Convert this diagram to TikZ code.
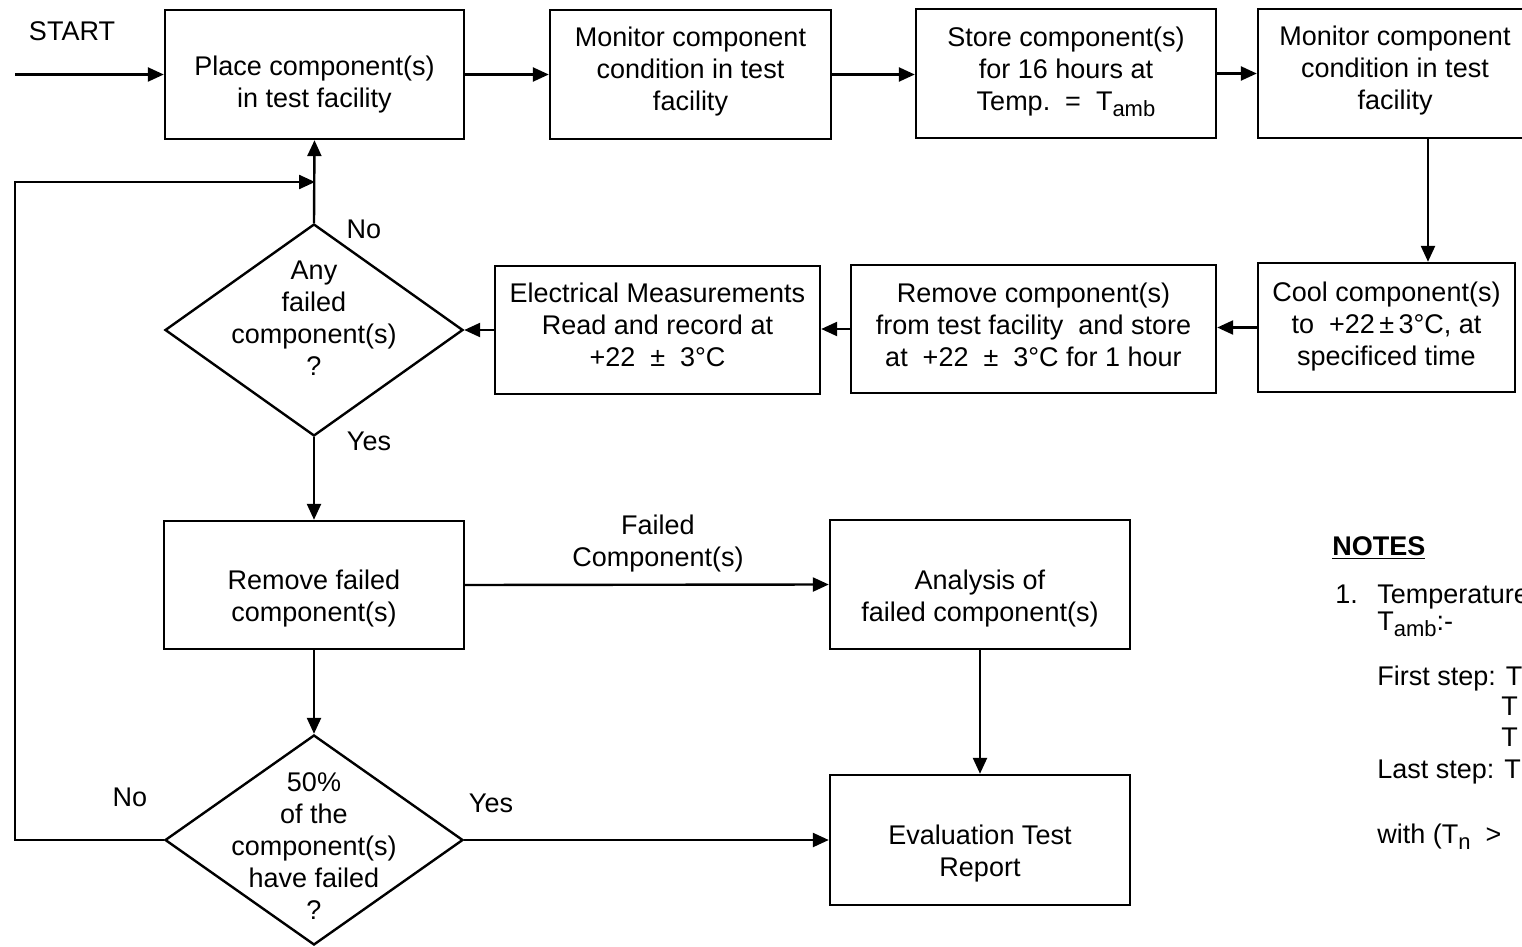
\documentclass[tikz,border=0pt]{standalone}
\usepackage{fontspec}
\setmainfont{Liberation Sans}
\usetikzlibrary{arrows.meta,shapes.geometric}
\newcommand{\subamb}{\raisebox{-0.45ex}{\fontsize{11}{11}\selectfont amb}}
\begin{document}
\begin{tikzpicture}[x=0.5pt,y=-0.5pt,
  box/.style={draw,line width=1.2pt,inner sep=0pt,minimum height=64.5pt},
  dia/.style={draw,shape=diamond,line width=1.2pt,inner sep=0pt},
  txt/.style={align=center,font=\fontsize{13.5}{16}\selectfont,inner sep=0pt},
  lbl/.style={font=\fontsize{13.5}{16}\selectfont,inner sep=0pt},
  arr/.style={line width=1.2pt,-{Triangle[length=8pt,width=7pt]}},
  ln/.style={line width=1.2pt}]
\useasboundingbox (0,0) rectangle (1522,947);
\clip (0,0) rectangle (1522,947);
\fill[white] (0,0) rectangle (1522,947);

% boxes
\node[box,minimum width=149.5pt] (A) at (314.5,74.5) {};
\node[box,minimum width=140.5pt] (B) at (690.5,74.5) {};
\node[box,minimum width=150pt] (C) at (1066,73.5) {};
\node[box,minimum width=137pt] (D) at (1395,73.5) {};
\node[box,minimum width=128.5pt] (Cool) at (1386.5,327.5) {};
\node[box,minimum width=182.5pt,minimum height=64pt] (Rem) at (1033.5,329) {};
\node[box,minimum width=162.5pt,minimum height=64pt] (Elec) at (657.5,330) {};
\node[box,minimum width=150pt,minimum height=64pt] (RF) at (314,585) {};
\node[box,minimum width=150pt] (AN) at (980,584.5) {};
\node[box,minimum width=150pt,minimum height=65pt] (EV) at (980,840) {};
\node[dia,minimum width=149pt,minimum height=106pt] (D1) at (314,330) {};
\node[dia,minimum width=149pt,minimum height=105pt] (D2) at (314,840) {};

% box texts
\node[txt,yshift=-5pt] (At) at (A) {Place component(s)\\in test facility};
\node[txt,yshift=1.25pt] (Bt) at (B) {Monitor component\\condition in test\\facility};
\node[txt,yshift=0.75pt] (Ct) at (C) {Store component(s)\\for 16 hours at\\Temp.~~=~~T\subamb};
\node[txt,yshift=1.25pt] (Dt) at (D) {Monitor component\\condition in test\\facility};
\node[txt,yshift=0.5pt] (Coolt) at (Cool) {Cool component(s)\\to~ +22\,±\,3°C, at\\specificed time};
\node[txt,yshift=2pt] (Remt) at (Rem) {Remove component(s)\\from test facility~ and store\\at~ +22 ~±~ 3°C for 1 hour};
\node[txt,yshift=2.5pt] (Elect) at (Elec) {Electrical Measurements\\Read and record at\\+22 ~±~ 3°C};
\node[txt,yshift=-7pt] (RFt) at (RF) {Remove failed\\component(s)};
\node[txt,yshift=-7.25pt] (ANt) at (AN) {Analysis of\\failed component(s)};
\node[txt,yshift=-7pt] (EVt) at (EV) {Evaluation Test\\Report};
\node[txt,yshift=5.75pt] (D1t) at (D1) {Any\\failed\\component(s)\\?};
\node[txt,yshift=-3.25pt] (D2t) at (D2) {50\%\\of the\\component(s)\\have failed\\?};

% labels
\node[lbl] (start) at (72,31) {START};
\node[lbl] (no1) at (364,229) {No};
\node[lbl] (yes1) at (369,441) {Yes};
\node[txt] (failedlbl) at (658,543.5) {Failed\\Component(s)};
\node[lbl] (yes2) at (491,803) {Yes};
\node[lbl] (no2) at (130,797) {No};

% connectors
\coordinate (s) at (15,74.5);
\coordinate (dx) at (1428,0);
\coordinate (fb) at (315,182);
\coordinate (lx) at (15,182);
\draw[arr] (s) -- (A.west);
\draw[arr] (A.east) -- (B.west);
\draw[arr] (B.east) -- (B.east -| C.west);
\draw[arr] (C.east) -- (D.west);
\draw[arr] (D.south -| dx) -- (Cool.north -| dx);
\draw[arr] (Cool.west) -- (Cool.west -| Rem.east);
\draw[arr] (Rem.west) -- (Rem.west -| Elec.east);
\draw[arr] (Elec.west) -- (D1.east);
\draw[arr] (D1.north) -- (A.south);
\draw[arr] (D1.south) -- (RF.north);
\draw[arr] (RF.east) -- (AN.west);
\draw[arr] (AN.south) -- (EV.north);
\draw[arr] (RF.south) -- (D2.north);
\draw[arr] (D2.east) -- (EV.west);
\draw[arr] (D2.west) -| (lx) -- (fb);

% notes
\node[lbl,anchor=base west] (notes) at (1332,555) {\underline{\textbf{NOTES}}};
\node[lbl,anchor=base west] (n1) at (1335,603) {1.};
\node[lbl,anchor=base west] (n1a) at (1377,603) {Temperature};
\node[lbl,anchor=base west] (n1b) at (1377,630) {T\subamb:-};
\node[lbl,anchor=base west] (n1c) at (1377,685) {First step: T};
\node[lbl,anchor=base west] (n1d) at (1501,715) {T};
\node[lbl,anchor=base west] (n1e) at (1501,746) {T};
\node[lbl,anchor=base west] (n1f) at (1377,778) {Last step: T};
\node[lbl,anchor=base west] (n1g) at (1377,843) {with (T\raisebox{-0.45ex}{\fontsize{11}{11}\selectfont n}~ >};
\end{tikzpicture}
\end{document}
